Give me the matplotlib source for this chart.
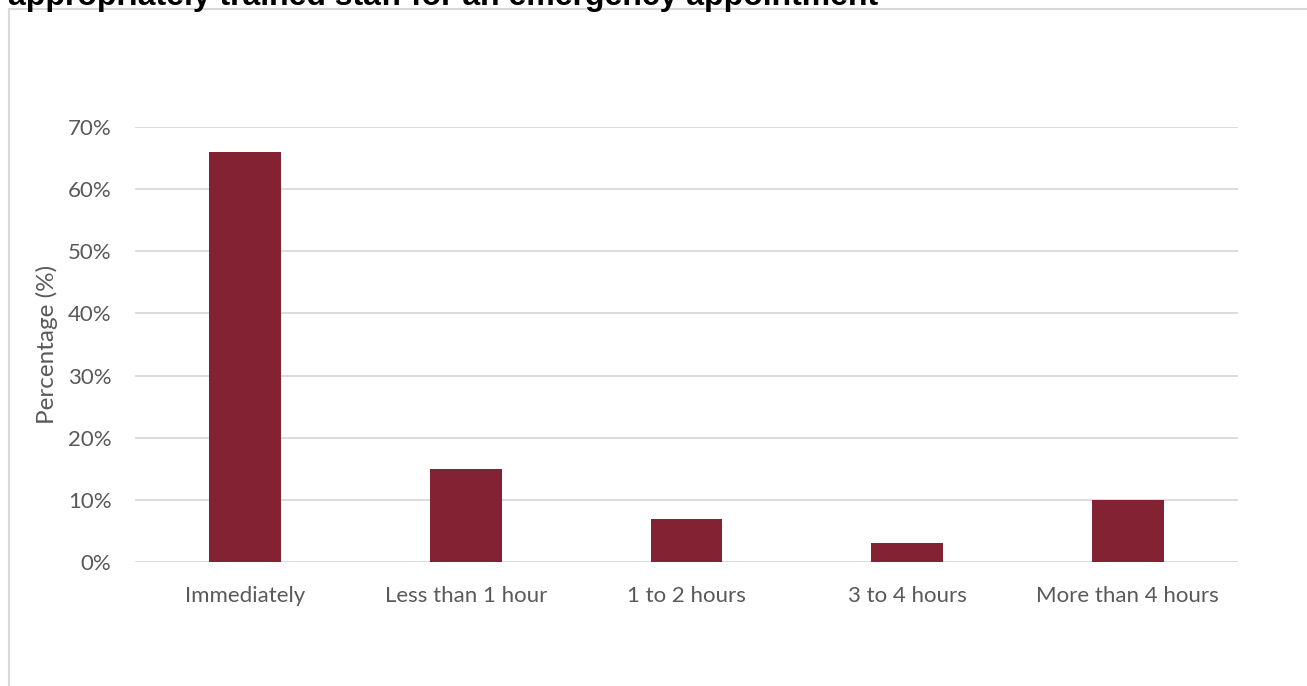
import matplotlib
matplotlib.use("Agg")
import matplotlib.pyplot as plt
import matplotlib.ticker as mticker
from matplotlib.patches import Rectangle

categories = ["Immediately", "Less than 1 hour", "1 to 2 hours", "3 to 4 hours", "More than 4 hours"]
values = [66, 15, 7, 3, 10]
yticks = [0, 10, 20, 30, 40, 50, 60, 70]
title = "appropriately trained staff for an emergency appointment"

W, H = 1307, 686
fig = plt.figure(figsize=(W / 100, H / 100), dpi=100)

# chart frame
fig.patches.append(Rectangle((9 / W, -0.05), 1.1, (677 / H) + 0.05,
                             transform=fig.transFigure, fill=False,
                             edgecolor="#d9d9d9", linewidth=1.5))

# heading line that runs above the frame
fig.text(8 / W, 681 / H, title, fontsize=23, fontweight="bold",
         family="Liberation Sans", color="black", va="baseline", ha="left")

ax = fig.add_axes([135 / W, (H - 562) / H, (1238 - 135) / W, (562 - 127) / H])
x = range(len(categories))
ax.bar(x, values, width=0.326, color="#832232", zorder=3)
ax.set_xlim(-0.5, len(categories) - 0.5)
ax.set_ylim(0, 70)
ax.set_yticks(yticks)
ax.yaxis.set_major_formatter(mticker.FuncFormatter(lambda v, p: f"{v:.0f}%"))
ax.set_xticks(list(x))
ax.set_xticklabels(categories)
ax.grid(axis="y", color="#d9d9d9", linewidth=1.3, zorder=0)
for s in ax.spines.values():
    s.set_visible(False)
ax.tick_params(length=0, labelsize=16, labelcolor="#595959")
ax.tick_params(axis="y", pad=17)
ax.tick_params(axis="x", pad=17)
for lab in ax.get_xticklabels() + ax.get_yticklabels():
    lab.set_family("Lato")
ax.set_ylabel("Percentage (%)", fontsize=17.5, color="#595959", family="Lato")
ax.yaxis.set_label_coords((58 - 135) / (1238 - 135), 0.5)

fig.savefig("out.png", dpi=100)
